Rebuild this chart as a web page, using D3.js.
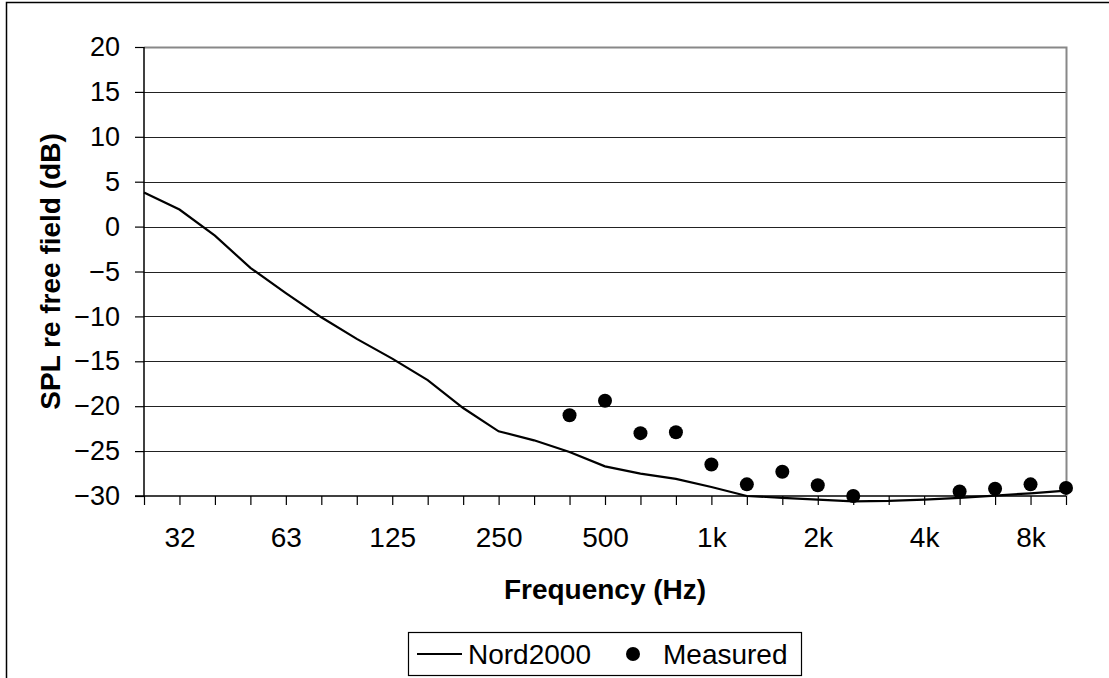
<!DOCTYPE html>
<html>
<head>
<meta charset="utf-8">
<script src="https://cdn.jsdelivr.net/npm/d3@7"></script>
<style>
  body { margin: 0; background: #fff; }
  text { font-family: "Liberation Sans", Arial, sans-serif; }
</style>
</head>
<body>
<div id="chart"></div>
<script>
// third-octave bands, 25 Hz .. 10 kHz
var bands = ['25', '31.5', '40', '50', '63', '80', '100', '125', '160', '200', '250', '315',
             '400', '500', '630', '800', '1k', '1.25k', '1.6k', '2k', '2.5k', '3.15k', '4k',
             '5k', '6.3k', '8k', '10k'];
var labelBands = ['31.5', '63', '125', '250', '500', '1k', '2k', '4k', '8k'];
var labelText = ['32', '63', '125', '250', '500', '1k', '2k', '4k', '8k'];
var yTicks = [20, 15, 10, 5, 0, -5, -10, -15, -20, -25, -30];

var nord2000 = [3.8, 1.9, -1.0, -4.6, -7.4, -10.1, -12.5, -14.7, -17.1, -20.2, -22.8, -23.8,
                -25.1, -26.7, -27.5, -28.1, -29.0, -30.0, -30.2, -30.4, -30.6, -30.55, -30.4,
                -30.2, -29.95, -29.7, -29.4];
var measured = [null, null, null, null, null, null, null, null, null, null, null, null,
                -21.0, -19.4, -23.0, -22.9, -26.5, -28.7, -27.3, -28.8, -30.0, null, null,
                -29.5, -29.2, -28.7, -29.1];

var splChart = {

  config: {
    width: 1109,
    height: 678,
    left: 144,
    right: 1066,
    top: 47,
    bottom: 496
  },

  display: function(el) {
    this.el = el;

    this.createSvg();
    this.createScales();
    this.createGrid();
    this.createAxes();
    this.createSeries();
    this.createLegend();
  },

  createSvg: function() {
    var c = this.config;
    this.svg = d3.select(this.el).append('svg')
                 .attr('width', c.width)
                 .attr('height', c.height);

    // outer frame (only top and left edges are visible in the original)
    this.svg.append('path')
            .attr('d', 'M6.5,' + c.height + 'V2.5H' + c.width)
            .attr('fill', 'none')
            .attr('stroke', '#000')
            .attr('stroke-width', 1.5);
  },

  createScales: function() {
    var c = this.config;
    this.x = d3.scalePoint().domain(bands).range([c.left, c.right]);
    this.y = d3.scaleLinear().domain([-30, 20]).range([c.bottom, c.top]);
  },

  createGrid: function() {
    var c = this.config, y = this.y;

    this.svg.append('g')
            .selectAll('line')
            .data(yTicks.filter(function(d) { return d > -30 && d < 20; }))
            .enter()
            .append('line')
            .attr('x1', c.left).attr('x2', c.right)
            .attr('y1', function(d) { return Math.round(y(d)) + 0.5; })
            .attr('y2', function(d) { return Math.round(y(d)) + 0.5; })
            .attr('stroke', '#222')
            .attr('stroke-width', 1.2);

    // plot area border, top and right
    this.svg.append('path')
            .attr('d', 'M' + c.left + ',' + (Math.round(y(20)) + 0.5) + 'H' + (c.right + 0.5) + 'V' + c.bottom)
            .attr('fill', 'none')
            .attr('stroke', '#888')
            .attr('stroke-width', 2);
  },

  createAxes: function() {
    var c = this.config, x = this.x, y = this.y;

    var yAxis = this.svg.append('g')
            .attr('transform', 'translate(' + c.left + ',0)')
            .call(d3.axisLeft(y).tickValues(yTicks).tickSize(9).tickPadding(15));

    var xAxis = this.svg.append('g')
            .attr('transform', 'translate(0,' + c.bottom + ')')
            .call(d3.axisBottom(x).tickSize(9).tickPadding(22)
                    .tickFormat(function(d) {
                      var i = labelBands.indexOf(d);
                      return i < 0 ? '' : labelText[i];
                    }));

    [yAxis, xAxis].forEach(function(g) {
      g.select('.domain').attr('stroke', '#000').attr('stroke-width', 1.5);
      g.selectAll('.tick line').attr('stroke', '#000').attr('stroke-width', 1.2);
      g.selectAll('.tick text')
       .attr('fill', '#000')
       .style('font-family', '"Liberation Sans", Arial, sans-serif');
    });
    yAxis.selectAll('.tick text').style('font-size', '27px');
    xAxis.selectAll('.tick text').style('font-size', '28px');
    yAxis.select('.domain').attr('d', 'M0,' + c.top + 'V' + c.bottom);
    xAxis.select('.domain').attr('d', 'M' + (c.left - 9) + ',0H' + c.right);

    this.svg.append('text')
            .attr('transform', 'translate(60,' + ((c.top + c.bottom) / 2) + ') rotate(-90)')
            .attr('text-anchor', 'middle')
            .style('font-size', '28px')
            .style('font-weight', 'bold')
            .text('SPL re free field (dB)');

    this.svg.append('text')
            .attr('x', (c.left + c.right) / 2)
            .attr('y', 599)
            .attr('text-anchor', 'middle')
            .style('font-size', '28px')
            .style('font-weight', 'bold')
            .text('Frequency (Hz)');
  },

  createSeries: function() {
    var x = this.x, y = this.y;

    var line = d3.line()
                 .x(function(d, i) { return x(bands[i]); })
                 .y(function(d) { return y(d); });

    this.svg.append('path')
            .datum(nord2000)
            .attr('d', line)
            .attr('fill', 'none')
            .attr('stroke', '#000')
            .attr('stroke-width', 2.2);

    this.svg.append('g')
            .selectAll('circle')
            .data(measured.map(function(v, i) { return { band: bands[i], value: v }; })
                          .filter(function(d) { return d.value !== null; }))
            .enter()
            .append('circle')
            .attr('cx', function(d) { return x(d.band); })
            .attr('cy', function(d) { return y(d.value); })
            .attr('r', 7)
            .attr('fill', '#000');
  },

  createLegend: function() {
    var g = this.svg.append('g');

    g.append('rect')
     .attr('x', 408.5).attr('y', 632.5)
     .attr('width', 393).attr('height', 43)
     .attr('fill', '#fff')
     .attr('stroke', '#000')
     .attr('stroke-width', 1.2);

    g.append('line')
     .attr('x1', 417).attr('x2', 462)
     .attr('y1', 654).attr('y2', 654)
     .attr('stroke', '#000')
     .attr('stroke-width', 2.2);

    g.append('text')
     .attr('x', 468).attr('y', 664)
     .style('font-size', '28px')
     .text('Nord2000');

    g.append('circle')
     .attr('cx', 633).attr('cy', 654)
     .attr('r', 7)
     .attr('fill', '#000');

    g.append('text')
     .attr('x', 663).attr('y', 664)
     .style('font-size', '28px')
     .text('Measured');
  }

};

splChart.display('#chart');
</script>
</body>
</html>
